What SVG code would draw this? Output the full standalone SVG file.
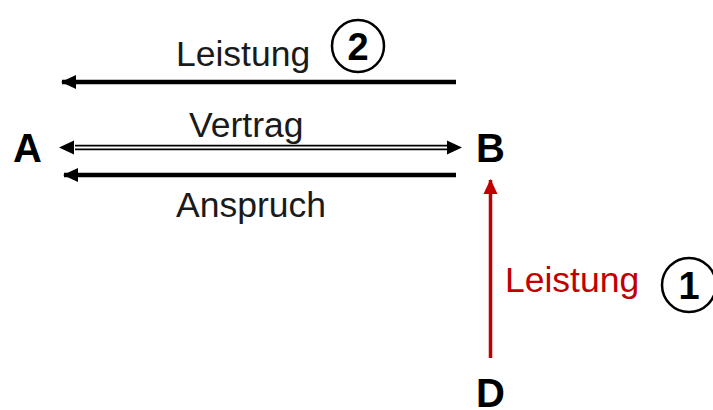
<svg xmlns="http://www.w3.org/2000/svg" width="713" height="410" viewBox="0 0 713 410">
<style>
.lbl{font-family:"Liberation Sans",Arial,sans-serif;font-size:35.5px;fill:#1a1a1a}
.node{font-family:"Liberation Sans",Arial,sans-serif;font-size:40px;font-weight:bold;fill:#000}
.num{font-family:"Liberation Sans",Arial,sans-serif;font-size:38px;font-weight:bold;fill:#000;text-anchor:middle}
.circ{fill:#fff;stroke:#000;stroke-width:2.5}
</style>
<defs>
<marker id="ah" markerUnits="userSpaceOnUse" markerWidth="16" markerHeight="16" viewBox="0 0 16 16" refX="14" refY="8" orient="auto">
<path d="M0,1 L15,8 L0,15 Z" fill="#000"/>
</marker>
<marker id="ahr" markerUnits="userSpaceOnUse" markerWidth="16" markerHeight="16" viewBox="0 0 16 16" refX="14" refY="8" orient="auto">
<path d="M0,1 L15,8 L0,15 Z" fill="#c00000"/>
</marker>
</defs>
<g id="connectors">
<line x1="456" y1="82" x2="62" y2="82" stroke="#000" stroke-width="4.5" marker-end="url(#ah)"/>
<line x1="75" y1="147.5" x2="447" y2="147.5" stroke="#000" stroke-width="5.5"/>
<line x1="72" y1="147.5" x2="450" y2="147.5" stroke="#fff" stroke-width="2"/>
<path d="M74,140.5 L59,147.5 L74,154.5 Z" fill="#000"/>
<path d="M447,140.5 L462,147.5 L447,154.5 Z" fill="#000"/>
<line x1="456" y1="175" x2="64" y2="175" stroke="#000" stroke-width="4.5" marker-end="url(#ah)"/>
<line x1="490.5" y1="358" x2="490.5" y2="180" stroke="#c00000" stroke-width="3.5" marker-end="url(#ahr)"/>
</g>
<g id="label-leistung2">
<text class="lbl" x="176" y="66">Leistung</text>
<circle class="circ" cx="358" cy="46" r="26"/>
<text class="num" x="358" y="59.5">2</text>
</g>
<g id="label-vertrag"><text class="lbl" x="189" y="137">Vertrag</text></g>
<g id="label-anspruch"><text class="lbl" x="176" y="217">Anspruch</text></g>
<g id="label-leistung1">
<text class="lbl" x="505" y="292" style="fill:#c00000">Leistung</text>
<circle class="circ" cx="689" cy="285" r="27"/>
<text class="num" x="689" y="298.5">1</text>
</g>
<g id="node-A"><text class="node" x="13" y="162">A</text></g>
<g id="node-B"><text class="node" x="476" y="162">B</text></g>
<g id="node-D"><text class="node" x="476" y="407">D</text></g>
</svg>
